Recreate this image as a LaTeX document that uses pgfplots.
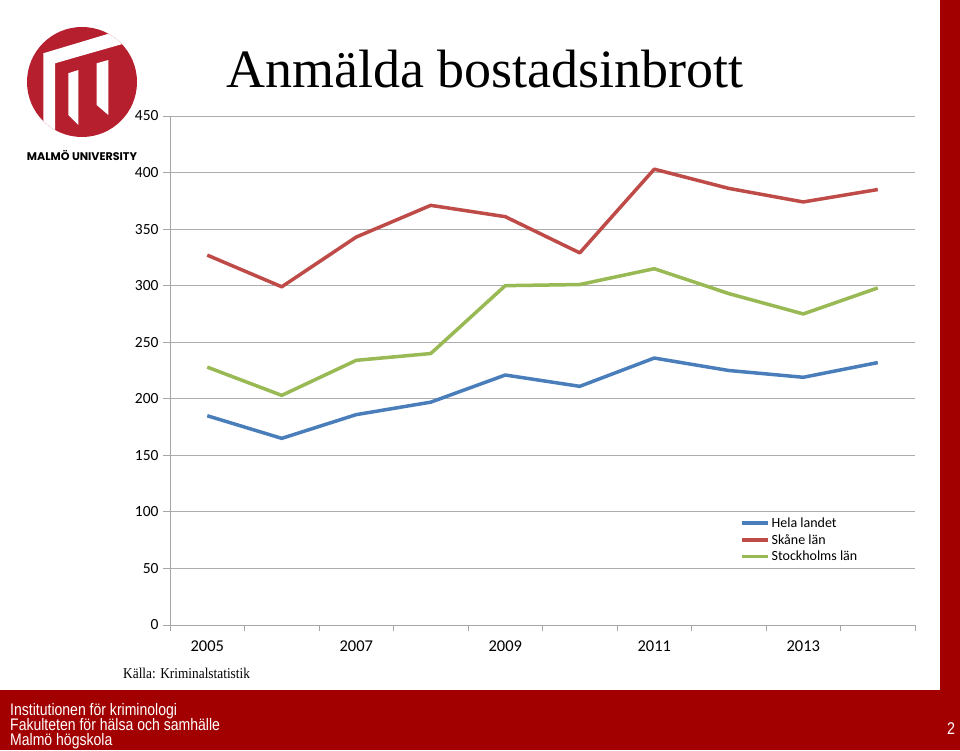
\documentclass[border=0pt]{standalone}
\usepackage{fontspec}
\setmainfont{Carlito}
\newfontfamily\titlefont{Liberation Serif}
\newfontfamily\sourcefont[FakeStretch=0.89]{Liberation Serif}
\newfontfamily\narrowfont[FakeStretch=0.84]{Liberation Sans}
\newfontfamily\logofont{Poppins}
\usepackage{pgfplots}
\pgfplotsset{compat=1.18}
\definecolor{footred}{HTML}{A20000}
\definecolor{logored}{HTML}{B51F2E}
\definecolor{sblue}{HTML}{4A7EBB}
\definecolor{sred}{HTML}{BE4B48}
\definecolor{sgreen}{HTML}{98B954}
\begin{document}
\begin{tikzpicture}[x=1pt,y=1pt]
\path[use as bounding box] (0,0) rectangle (960,750);
\fill[white] (0,0) rectangle (960,750);
% right bar and footer
\fill[footred] (940,60) rectangle (960,750);
\fill[footred] (0,0) rectangle (960,60);
% logo
\begin{scope}
\fill[logored] (82,668) circle (55);
\clip (82,668) circle (55);
\fill[white] (43.3,696.7) -- (150,728.7) -- (150,713.9) -- (55,686.7) -- (55,600) -- (43.3,600) -- cycle;
\fill[white] (68.3,676.7) -- (78.3,680) -- (78.3,625) -- (68.3,635) -- cycle;
\fill[white] (96.7,686.7) -- (108.3,690) -- (108.3,635) -- (96.7,645) -- cycle;
\end{scope}
\node[anchor=center] at (82,595) {\resizebox{110pt}{!}{\logofont\bfseries MALMÖ UNIVERSITY}};
% title
\node[anchor=base west, inner sep=0] at (226,662) {\titlefont\fontsize{54}{62}\selectfont Anmälda bostadsinbrott};
% source
\node[anchor=base west, inner sep=0] at (123,72) {\sourcefont\fontsize{15}{17}\selectfont Källa: Kriminalstatistik};
% footer text
\node[anchor=base west, inner sep=0] at (10,35) {\narrowfont\color{white}\fontsize{16.7}{18}\selectfont Institutionen för kriminologi};
\node[anchor=base west, inner sep=0] at (10,20) {\narrowfont\color{white}\fontsize{16.7}{18}\selectfont Fakulteten för hälsa och samhälle};
\node[anchor=base west, inner sep=0] at (10,5) {\narrowfont\color{white}\fontsize{16.7}{18}\selectfont Malmö högskola};
\node[anchor=base, inner sep=0] at (951,16) {\narrowfont\color{white}\fontsize{17}{18}\selectfont 2};
\begin{axis}[
  at={(170pt,125pt)}, anchor=south west,
  scale only axis, width=745pt, height=509pt,
  xmin=2004.5, xmax=2014.5, ymin=0, ymax=450,
  axis x line*=bottom, axis y line*=left,
  axis line style={draw=gray!70, line width=0.8pt},
  xtick={2005,2007,2009,2011,2013},
  xticklabels={2005,2007,2009,2011,2013},
  minor xtick={2004.5,2005.5,...,2014.5},
  major x tick style={draw=none},
  minor x tick style={draw=gray!70, line width=0.8pt},
  minor tick length=6pt,
  ytick={0,50,...,450},
  ytick style={draw=gray!70, line width=0.8pt},
  major tick length=7pt,
  tick align=outside,
  ymajorgrids,
  grid style={draw=gray!65, line width=0.8pt},
  /pgf/number format/assume math mode=true,
  xticklabel style={font=\fontsize{16.5}{18}\selectfont, yshift=-5pt},
  yticklabel style={font=\fontsize{15.5}{18}\selectfont, xshift=-1pt},
  legend style={at={(axis cs:2012.15,97)}, anchor=north west, draw=none, fill=none,
     font=\fontsize{14}{16}\selectfont, row sep=1.5pt, inner sep=0pt},
  legend cell align=left,
  legend image code/.code={\draw[#1] (0pt,0pt) -- (26pt,0pt);},
  every axis plot/.append style={line width=3.5pt, line join=round},
]
\addplot[sblue] coordinates {(2005,185) (2006,165) (2007,186) (2008,197) (2009,221) (2010,211) (2011,236) (2012,225) (2013,219) (2014,232)};
\addlegendentry{Hela landet}
\addplot[sred] coordinates {(2005,327) (2006,299) (2007,343) (2008,371) (2009,361) (2010,329) (2011,403) (2012,386) (2013,374) (2014,385)};
\addlegendentry{Skåne län}
\addplot[sgreen] coordinates {(2005,228) (2006,203) (2007,234) (2008,240) (2009,300) (2010,301) (2011,315) (2012,293) (2013,275) (2014,298)};
\addlegendentry{Stockholms län}
\end{axis}
\end{tikzpicture}
\end{document}
